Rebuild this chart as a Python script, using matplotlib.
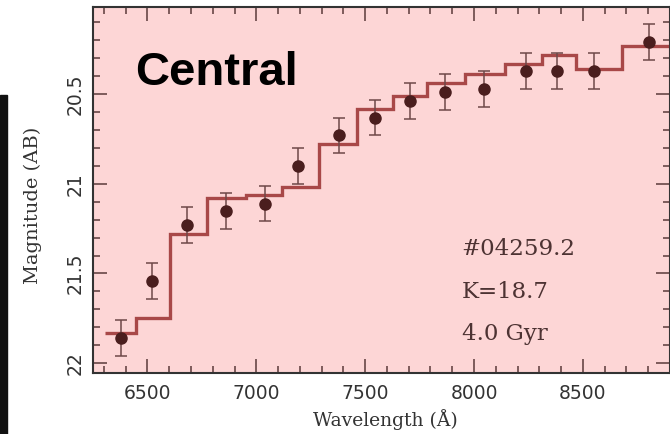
import matplotlib
matplotlib.use("Agg")
import matplotlib.pyplot as plt
from matplotlib.patches import Rectangle
from matplotlib.ticker import MultipleLocator

# photometric points (filter centres, AB magnitudes)
wavelength = [6377, 6520, 6684, 6863, 7039, 7193, 7378, 7545,
              7706, 7866, 8044, 8240, 8381, 8549, 8802]
mag = [21.86, 21.54, 21.23, 21.15, 21.11, 20.90, 20.73, 20.63,
       20.54, 20.49, 20.47, 20.37, 20.37, 20.37, 20.21]
mag_err = [0.10, 0.10, 0.10, 0.10, 0.10, 0.10, 0.10, 0.10,
           0.10, 0.10, 0.10, 0.10, 0.10, 0.10, 0.10]

# best fit model, one step per filter
model_edges = [6305, 6448, 6602, 6774, 6951, 7116, 7287, 7464,
               7628, 7786, 7958, 8144, 8310, 8468, 8679, 8930]
model_mag = [21.83, 21.75, 21.28, 21.08, 21.06, 21.02, 20.78, 20.58,
             20.51, 20.44, 20.39, 20.33, 20.28, 20.36, 20.23]

info = ["#04259.2", "K=18.7", "4.0 Gyr"]

fig = plt.figure(figsize=(6.7, 4.34), dpi=100)
ax = fig.add_axes([93 / 670, 1 - 373 / 434, 577 / 670, 366.3 / 434])
ax.set_facecolor("#fdd6d6")

ax.stairs(model_mag, model_edges, baseline=None, color="#a84848",
          lw=2.4, zorder=2)
ax.errorbar(wavelength, mag, yerr=mag_err, fmt="o", color="#4a1e1e",
            ms=8, ecolor="#6e4848", elinewidth=1.1, capsize=4.6,
            capthick=1.1, zorder=3)

ax.set_xlim(6250, 8900)
ax.set_ylim(22.055, 20.012)

ax.xaxis.set_major_locator(MultipleLocator(500))
ax.xaxis.set_minor_locator(MultipleLocator(100))
ax.yaxis.set_minor_locator(MultipleLocator(0.1))
ax.set_yticks([20.5, 21, 21.5, 22])
ax.set_yticklabels(["20.5", "21", "21.5", "22"], rotation=90, va="center")
ax.tick_params(which="both", direction="in", top=True, right=True,
               color="#5a3a3a", width=1.1)
ax.tick_params(which="major", length=10, labelsize=13.5, labelcolor="#333333")
ax.tick_params(which="minor", length=5)
ax.tick_params(axis="x", pad=8)
ax.tick_params(axis="y", pad=6)
for sp in ax.spines.values():
    sp.set_color("#333333")
    sp.set_linewidth(1.5)

ax.text(0.073, 0.786, "Central", transform=ax.transAxes, fontsize=34,
        fontweight="bold", family="Liberation Sans", color="black")

for txt, yy in zip(info, [0.322, 0.204, 0.090]):
    ax.text(0.639, yy, txt, transform=ax.transAxes, fontsize=16.5,
            family="DejaVu Serif", color="#4d3333", va="baseline")

fig.text(385 / 670, 1 - 420 / 434, "Wavelength (Å)", ha="center",
         va="center", fontsize=13.5, family="DejaVu Serif", color="#333333")
fig.text(33 / 670, 1 - 205 / 434, "Magnitude (AB)", ha="center",
         va="center", rotation=90, fontsize=14, family="DejaVu Serif",
         color="#333333")

# black strip on the left edge
fig.patches.append(Rectangle((0, 0), 7 / 670, 1 - 95 / 434,
                             transform=fig.transFigure, color="#111111"))

fig.savefig("out.png", dpi=100)
